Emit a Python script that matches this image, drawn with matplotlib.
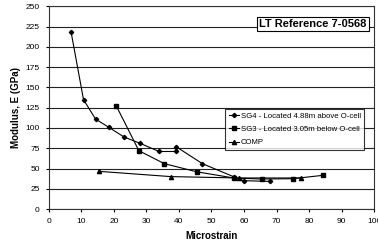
import matplotlib
matplotlib.use("Agg")
import matplotlib.pyplot as plt

plt.rcParams['font.family'] = ['Liberation Sans', 'DejaVu Sans']

sg4_x = [6.9, 10.7, 14.4, 18.4, 23.1, 28.1, 33.9, 39.1, 39.1, 47.2, 57.0, 59.9, 68.0]
sg4_y = [218, 135, 111, 101, 89, 81, 71, 71, 77, 56, 39.5, 35, 34]
sg3_x = [20.8, 27.7, 35.5, 45.4, 56.8, 65.4, 74.9, 84.3]
sg3_y = [127, 72, 56, 46, 38.3, 37, 37.4, 41.6]
comp_x = [15.4, 37.5, 58.5, 77.6]
comp_y = [46.5, 40, 38.3, 38.3]

labels = ["SG4 - Located 4.88m above O-cell",
          "SG3 - Located 3.05m below O-cell",
          "COMP"]
xticks = list(range(0, 101, 10))
yticks = list(range(0, 251, 25))

fig = plt.figure(figsize=(3.78, 2.46), dpi=100)
ax = fig.add_axes([0.1288, 0.1504, 0.8614, 0.8232])

ax.plot(sg4_x, sg4_y, color='black', lw=0.8, marker='D', ms=2.2, label=labels[0])
ax.plot(sg3_x, sg3_y, color='black', lw=0.8, marker='s', ms=3.2, label=labels[1])
ax.plot(comp_x, comp_y, color='black', lw=0.8, marker='^', ms=3.0, label=labels[2])

ax.set_xlim(0, 100)
ax.set_ylim(0, 250)
ax.set_xticks(xticks)
ax.set_yticks(yticks)
ax.tick_params(labelsize=6, length=2.5, width=0.8, direction='out', pad=4)
ax.yaxis.grid(True, color='#222222', lw=0.8)
ax.set_axisbelow(True)
for s in ax.spines.values():
    s.set_linewidth(0.8)
    s.set_color('#333333')

ax.set_xlabel("Microstrain", fontsize=7, fontweight='bold', labelpad=4)
ax.set_ylabel("Modulus, E (GPa)", fontsize=7, fontweight='bold', labelpad=3)

ax.text(0.977, 0.913, "LT Reference 7-0568", transform=ax.transAxes,
        ha='right', va='center', fontsize=8, fontweight='bold',
        bbox=dict(boxstyle='square,pad=0.2', fc='white', ec='black', lw=0.8),
        zorder=5)

leg = ax.legend(loc='upper left', bbox_to_anchor=(0.5415, 0.494), fontsize=5.6,
                frameon=True, fancybox=False, edgecolor='black',
                handlelength=1.3, handletextpad=0.25, borderpad=0.45,
                labelspacing=0.75, borderaxespad=0)
leg.get_frame().set_linewidth(0.8)

fig.savefig("out.png", dpi=100)
